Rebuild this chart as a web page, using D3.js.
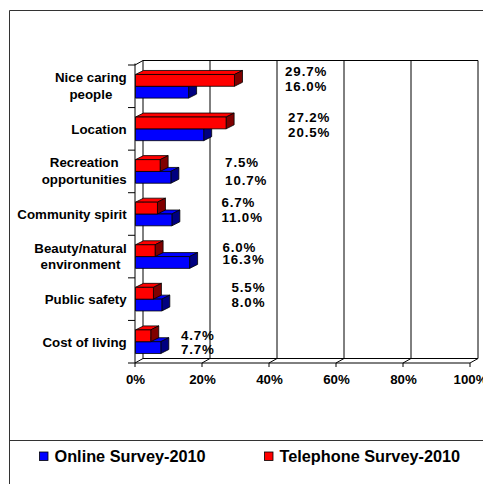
<!DOCTYPE html>
<html>
<head>
<meta charset="utf-8">
<script src="https://cdn.jsdelivr.net/npm/d3@7"></script>
<style>
  html, body { margin: 0; padding: 0; background: #fff; }
  svg { display: block; font-family: "Liberation Sans", Arial, sans-serif; font-weight: bold; }
</style>
</head>
<body>
<svg id="chart" width="483" height="484"></svg>
<script>
// What residents value most about the community (share of respondents)
const categories = [
  "Nice caring\npeople",
  "Location",
  "Recreation\nopportunities",
  "Community spirit",
  "Beauty/natural\nenvironment",
  "Public safety",
  "Cost of living"
];
const telephone = [29.7, 27.2, 7.5, 6.7, 6.0, 5.5, 4.7];
const online    = [16.0, 20.5, 10.7, 11.0, 16.3, 8.0, 7.7];
const xTicks = [0, 20, 40, 60, 80, 100];
const seriesNames = ["Online Survey-2010", "Telephone Survey-2010"];

// Where each pair of value labels sits: [x in axis units, telephone dy, online dy]
const labelNudge = [
  [44.8, -10.2, 4.8],
  [45.7, -6.8, 8.2],
  [26.9, -4.8, 13.8],
  [25.8, -6.9, 8.1],
  [26.1, -4.7, 7.6],
  [28.8, -7.6, 7.7],
  [13.7, -1.7, 12.3]
];

const svg = d3.select("#chart");

// Outer frame and legend divider
svg.append("path")
  .attr("d", "M9.5,484 V10.5 H483 M9.5,440.5 H483")
  .attr("fill", "none").attr("stroke", "#333").attr("stroke-width", 1);

// Plot geometry: front plane plus a receding depth offset
const front = { left: 135, right: 470, top: 65, bottom: 363 };
const depth = { dx: 8, dy: 4.5 };
const barDepth = { dx: 8, dy: 4 };

const x = d3.scaleLinear().domain([0, 100]).range([front.left, front.right]);
const y = d3.scaleBand().domain(d3.range(categories.length))
  .range([front.top, front.bottom]).paddingInner(0.445).paddingOuter(0.2225);
const ySeries = d3.scaleBand().domain(["tel", "onl"]).range([0, y.bandwidth()]);

const frame = svg.append("g").attr("fill", "none").attr("stroke", "#000").attr("stroke-width", 1);
const bx = v => x(v) + depth.dx;
const backTop = front.top - depth.dy, backBottom = front.bottom - depth.dy;

// Back wall with gridlines
frame.append("path").attr("d", `M${bx(0)},${backBottom} V${backTop} H${bx(100)} V${backBottom}`);
xTicks.filter(t => t > 0 && t < 100).forEach(t => {
  frame.append("line").attr("x1", bx(t)).attr("x2", bx(t)).attr("y1", backTop).attr("y2", backBottom);
});
// Floor
frame.append("line").attr("x1", bx(0)).attr("x2", bx(100)).attr("y1", backBottom).attr("y2", backBottom);
xTicks.forEach(t => {
  frame.append("line").attr("x1", x(t)).attr("y1", front.bottom).attr("x2", bx(t)).attr("y2", backBottom);
});
// Left wall top edge
frame.append("line").attr("x1", x(0)).attr("y1", front.top).attr("x2", bx(0)).attr("y2", backTop);

// Bars: blue first so the red bar above covers its top face
function bar3d(g, i, v, key, fill, dark) {
  const y0 = y(i) + ySeries(key), y1 = y0 + ySeries.bandwidth();
  const x0 = x(0) + 0.5, x1 = x(v);
  const { dx, dy } = barDepth;
  const s = g.append("g").attr("stroke", "#000").attr("stroke-width", 0.8).attr("stroke-linejoin", "round");
  s.append("path").attr("fill", fill)
    .attr("d", `M${x0},${y0} L${x0 + dx},${y0 - dy} L${x1 + dx},${y0 - dy} L${x1},${y0} Z`);
  s.append("path").attr("fill", dark)
    .attr("d", `M${x1},${y0} L${x1 + dx},${y0 - dy} L${x1 + dx},${y1 - dy} L${x1},${y1} Z`);
  s.append("rect").attr("fill", fill)
    .attr("x", x0).attr("y", y0).attr("width", x1 - x0).attr("height", y1 - y0);
}
const bars = svg.append("g");
categories.forEach((c, i) => {
  bar3d(bars, i, online[i], "onl", "#0000ff", "#000080");
  bar3d(bars, i, telephone[i], "tel", "#ff0000", "#800000");
});

// Front axes
frame.append("line").attr("x1", x(0)).attr("x2", x(0)).attr("y1", front.top - 1.5).attr("y2", front.bottom);
frame.append("line").attr("x1", x(0)).attr("x2", x(100)).attr("y1", front.bottom).attr("y2", front.bottom);
// Category ticks at band boundaries
d3.range(categories.length + 1).forEach(k => {
  const yy = front.top + k * y.step();
  frame.append("line").attr("x1", x(0) - 7).attr("x2", x(0)).attr("y1", yy).attr("y2", yy);
});
// Value ticks
xTicks.forEach(t => {
  frame.append("line").attr("x1", x(t)).attr("x2", x(t)).attr("y1", front.bottom).attr("y2", front.bottom + 4);
});

// Tick labels
svg.append("g").selectAll("text").data(xTicks).join("text")
  .attr("x", d => x(d) + 0.5).attr("y", 383.5)
  .attr("text-anchor", "middle").attr("font-size", 13.3)
  .text(d => d + "%");

// Category labels: centred lines, block right edge aligned
const catG = svg.append("g").attr("font-size", 13.3);
categories.forEach((c, i) => {
  const lines = c.split("\n");
  const cy = y(i) + y.bandwidth() / 2;
  const t = catG.append("text").attr("text-anchor", "middle");
  const spans = lines.map((ln, k) => t.append("tspan").text(ln)
    .attr("y", lines.length === 1 ? cy + 5 : cy - 4 + k * 16.5));
  const w = d3.max(spans, s => s.node().getComputedTextLength());
  spans.forEach(s => s.attr("x", 126.7 - w / 2));
});

// Value labels
const valG = svg.append("g").attr("font-size", 13.3).attr("letter-spacing", "0.9px");
categories.forEach((c, i) => {
  const [lx, dTel, dOnl] = labelNudge[i];
  const cy = y(i) + y.bandwidth() / 2;
  valG.append("text").attr("x", x(lx)).attr("y", cy + dTel).text(telephone[i].toFixed(1) + "%");
  valG.append("text").attr("x", x(lx)).attr("y", cy + dOnl).text(online[i].toFixed(1) + "%");
});

// Legend
const legend = svg.append("g").attr("font-size", 16.3);
const legendItems = [
  { name: seriesNames[0], color: "#0000ff", x: 39.5 },
  { name: seriesNames[1], color: "#ff0000", x: 264.5 }
];
legendItems.forEach(d => {
  legend.append("rect").attr("x", d.x).attr("y", 452).attr("width", 8.5).attr("height", 8.5)
    .attr("fill", d.color).attr("stroke", "#000").attr("stroke-width", 0.8);
  legend.append("text").attr("x", d.x + 15).attr("y", 461.7).text(d.name);
});
</script>
</body>
</html>
